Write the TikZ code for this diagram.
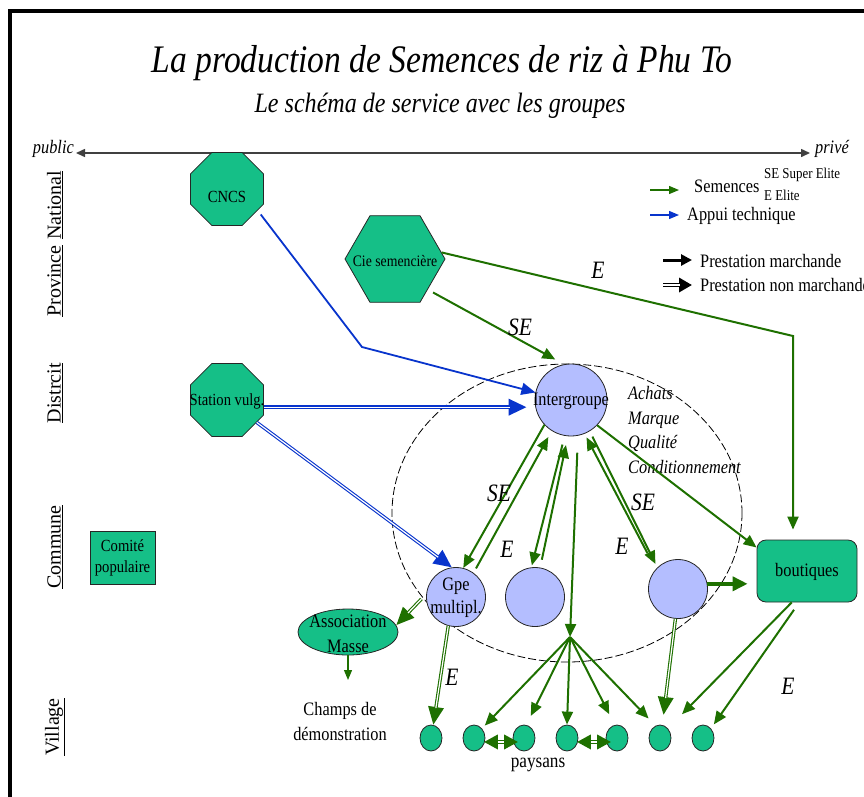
\documentclass[tikz,border=0pt]{standalone}
\usepackage{fontspec}
\setmainfont{Liberation Serif}[FakeStretch=0.86]
\newfontfamily\levelfont{Liberation Serif}
\usetikzlibrary{arrows.meta,shapes.geometric,calc}

\definecolor{tealg}{RGB}{21,191,135}
\definecolor{lav}{RGB}{180,190,255}
\definecolor{grn}{RGB}{30,112,0}
\definecolor{blu}{RGB}{8,52,204}

\newcommand\fsz[2]{\fontsize{#1pt}{#2pt}\selectfont}

\tikzset{
  octa/.style={regular polygon, regular polygon sides=8, minimum size=79pt, fill=tealg, draw=black!85, line width=0.8pt, inner sep=0pt},
  hexa/.style={regular polygon, regular polygon sides=6, minimum size=100pt, fill=tealg, draw=black!85, line width=0.8pt, inner sep=0pt},
  grp/.style={circle, minimum size=59pt, fill=lav, draw=black!85, line width=0.8pt, inner sep=0pt},
  pay/.style={ellipse, minimum width=22pt, minimum height=26pt, fill=tealg, draw=black!85, line width=0.8pt, inner sep=0pt},
  boxg/.style={fill=tealg, draw=black!85, line width=0.8pt, inner sep=0pt},
  lbl/.style={font=\fsz{19}{22}, inner sep=0pt},
  flow/.style={font=\itshape\fsz{25}{28}, inner sep=0pt},
  level/.style={rotate=90, font=\levelfont\fsz{20}{24}, inner sep=0pt},
  gline/.style={draw=grn, line width=2pt, -{Triangle[length=13pt,width=11pt]}},
  bline/.style={draw=blu, line width=1.8pt, -{Triangle[length=14pt,width=12pt]}},
  thickg/.style={draw=grn, line width=3.6pt, -{Triangle[length=15pt,width=14pt]}},
  dblg/.style={draw=grn, line width=3.4pt, shorten >=#1, -{Triangle[length=18pt,width=15pt]},
    postaction={draw=white, line width=1.2pt, -, shorten >=#1+17pt}},
  dblg/.default=0pt,
  dblb/.style={draw=blu, line width=3.4pt, shorten >=#1, -{Triangle[length=18pt,width=16pt]},
    postaction={draw=white, line width=1.2pt, -, shorten >=#1+17pt}},
  dblb/.default=0pt,
  dbltwo/.style={draw=grn, line width=3.4pt, shorten >=-5pt, shorten <=-1pt,
    {Triangle[length=14pt,width=14pt]}-{Triangle[length=14pt,width=14pt]},
    postaction={draw=white, line width=1.2pt, -, shorten >=9pt, shorten <=13pt}},
  legthin/.style={line width=1.3pt, -{Triangle[length=10pt,width=8pt]}},
}

\begin{document}
\begin{tikzpicture}[x=1pt,y=-1pt]
\useasboundingbox (0,0) rectangle (864,796);

% frame
\draw[line width=4.5pt] (10,820) -- (10,11) -- (880,11);

% titles
\node[font=\itshape\fsz{39}{44}, inner sep=0pt] (title) at (442,63) {La production de Semences de riz à Phu To};
\node[font=\itshape\fsz{28}{32}, inner sep=0pt] (subtitle) at (440,106) {Le schéma de service avec les groupes};

% public / private axis
\node[anchor=base east, font=\itshape\fsz{19}{22}, inner sep=0pt] (public) at (74,153) {public};
\node[anchor=base west, font=\itshape\fsz{19}{22}, inner sep=0pt] (prive) at (815,153) {privé};
\coordinate (axL) at (76,153);
\coordinate (axR) at (810,153);
\draw[line width=1.5pt, draw=black!75, {Triangle[length=9pt,width=8pt]}-{Triangle[length=9pt,width=8pt]}] (axL) -- (axR);

% administrative levels
\node[level] (lvNat) at (55,205) {\underline{National}};
\node[level] (lvProv) at (55,281) {\underline{Province}};
\node[level] (lvDist) at (55,393) {\underline{Distrcit}};
\node[level] (lvCom) at (55,547) {\underline{Commune}};
\node[level] (lvVil) at (55,727) {\underline{Village}};

% group perimeter
\draw[line width=0.8pt, dash pattern=on 8pt off 3pt] (567,513) ellipse [x radius=175, y radius=149];

% actors
\node[octa] (cncs) at (227,189) {};
\node[lbl, font=\fsz{17}{20}] (cncsT) at (227,197) {CNCS};
\node[hexa] (cie) at (395,259) {};
\node[lbl, font=\fsz{16}{19}] (cieT) at (395,261) {Cie semencière};
\node[octa] (stat) at (227,400) {};
\node[lbl, font=\fsz{17}{20}] (statT) at (227,401) {Station vulg.};
\node[boxg, minimum width=65pt, minimum height=53pt] (comite) at (122.5,557.5) {};
\node[lbl, font=\fsz{17}{21}, align=center] (comiteT) at (122.5,558) {Comité\\populaire};
\node[grp, minimum size=72pt] (inter) at (571,400) {};
\node[lbl] (interT) at (571,401) {Intergroupe};
\node[grp] (gpe) at (456,597) {};
\node[lbl, align=center, font=\fsz{19}{23}] (gpeT) at (456,598) {Gpe\\multipl.};
\node[grp] (c2) at (535,597) {};
\node[grp] (c3) at (678,589) {};
\node[boxg, rounded corners=9pt, minimum width=100pt, minimum height=62pt] (bout) at (807,571) {};
\node[lbl] (boutT) at (807,572) {boutiques};
\node[boxg, ellipse, minimum width=100pt, minimum height=46pt] (assoc) at (348,632) {};
\node[lbl, align=center, font=\fsz{19}{25}] (assocT) at (348,634) {Association\\Masse};
\node[lbl, align=center, font=\fsz{19}{25}] (champs) at (340,721) {Champs de\\démonstration};
\foreach \i/\x in {1/431,2/474,3/524,4/567,5/617,6/660,7/703}
  \node[pay] (p\i) at (\x,738) {};
\node[lbl, font=\fsz{20}{24}] (paysans) at (538,765) {paysans};
\node[anchor=base west, align=left, font=\itshape\fsz{19}{24.5}, inner sep=0pt] (roles) at (628,473)
  {Achats\\Marque\\Qualité\\Conditionnement};

% technical support
\coordinate (cbend) at (362,347);
\draw[bline, shorten <=5pt] (cncs.-35) -- (cbend) -- (inter.168);
\draw[dblb=8pt] (stat.-11) -- (stat.-11 -| inter.west);
\draw[dblb] (stat.-37) -- (gpe.98);

% seed flows
\coordinate (ebend) at (793,336);
\draw[gline, shorten <=6pt, shorten >=10pt] (cie.-43) -- (inter.101);
\draw[gline, shorten >=10pt] (cie.8) -- (ebend) -- (ebend |- bout.north);
\draw[gline] (inter.223) -- (gpe.76);
\draw[gline, shorten <=5pt, shorten >=7pt] (gpe.54) -- (inter.238);
\draw[gline, shorten <=9pt, shorten >=2pt] (inter.260) -- (c2.97);
\draw[gline, shorten <=8pt, shorten >=9pt] (c2.80) -- (inter.265);
\draw[gline, shorten <=18pt, shorten >=4pt] (c3.138) -- (inter.292);
\draw[gline, shorten <=6pt, shorten >=4pt] (inter.301) -- (c3.134);
\draw[gline] (inter.316) -- (bout.155);
\draw[thickg, shorten >=9pt] (c3.10) -- (c3.10 -| bout.west);

% distribution to farmers
\coordinate (hub) at (570,637);
\draw[gline, shorten <=17pt] (inter.281) -- (hub);
\draw[gline, shorten >=4pt] (hub) -- (p2.50);
\draw[gline, shorten >=10pt] (hub) -- (p3.80);
\draw[gline] (hub) -- (p4.north);
\draw[gline, shorten >=12pt] (hub) -- (p5.100);
\draw[gline, shorten >=10pt] (hub) -- (p6.110);
\draw[dblg=10pt] (c3.265) -- (p6.80);
\draw[gline, shorten >=20pt] (bout.244) -- (p6.50);
\draw[gline, shorten <=9pt, shorten >=5pt] (bout.256) -- (p7.50);
\draw[dblg] (gpe.255) -- (p1.80);
\draw[dblg, shorten <=7pt] (gpe.174) -- (assoc.8);
\coordinate (demo) at (348,680);
\draw[draw=grn, line width=1.2pt, -{Triangle[length=10pt,width=8pt]}] (assoc.south) -- (demo);
\draw[dbltwo] (p2.-20) -- (p3.200);
\draw[dbltwo] (p4.-20) -- (p5.200);

% flow labels
\node[flow] (lSE1) at (520,327) {SE};
\node[flow] (lE1) at (598,270) {E};
\node[flow] (lSE2) at (499,493) {SE};
\node[flow] (lE2) at (507,549) {E};
\node[flow] (lSE3) at (643,502) {SE};
\node[flow] (lE3) at (622,546) {E};
\node[flow] (lE4) at (452,677) {E};
\node[flow] (lE5) at (788,686) {E};

% legend
\coordinate (lg1a) at (650,190); \coordinate (lg1b) at (679,190);
\coordinate (lg2a) at (650,215); \coordinate (lg2b) at (679,215);
\coordinate (lg3a) at (663,260); \coordinate (lg3b) at (692,260);
\coordinate (lg4a) at (663,285); \coordinate (lg4b) at (692,285);
\draw[legthin, draw=grn] (lg1a) -- (lg1b);
\draw[legthin, draw=blu] (lg2a) -- (lg2b);
\draw[line width=3pt, -{Triangle[length=11pt,width=11pt]}] (lg3a) -- (lg3b);
\draw[line width=3.4pt, -{Triangle[length=13pt,width=14pt]}, postaction={draw=white, line width=1.2pt, -, shorten >=12pt}] (lg4a) -- (lg4b);
\node[lbl, anchor=west] (legSem) at (694,186) {Semences};
\node[lbl, anchor=west, font=\fsz{15}{18}] (legSE) at (764,175) {SE Super Elite};
\node[lbl, anchor=west, font=\fsz{15}{18}] (legE) at (764,195) {E Elite};
\node[lbl, anchor=west] (legApp) at (687,216) {Appui technique};
\node[lbl, anchor=west] (legPM) at (700,261) {Prestation marchande};
\node[lbl, anchor=west] (legPNM) at (700,285) {Prestation non marchande};
\end{tikzpicture}
\end{document}
